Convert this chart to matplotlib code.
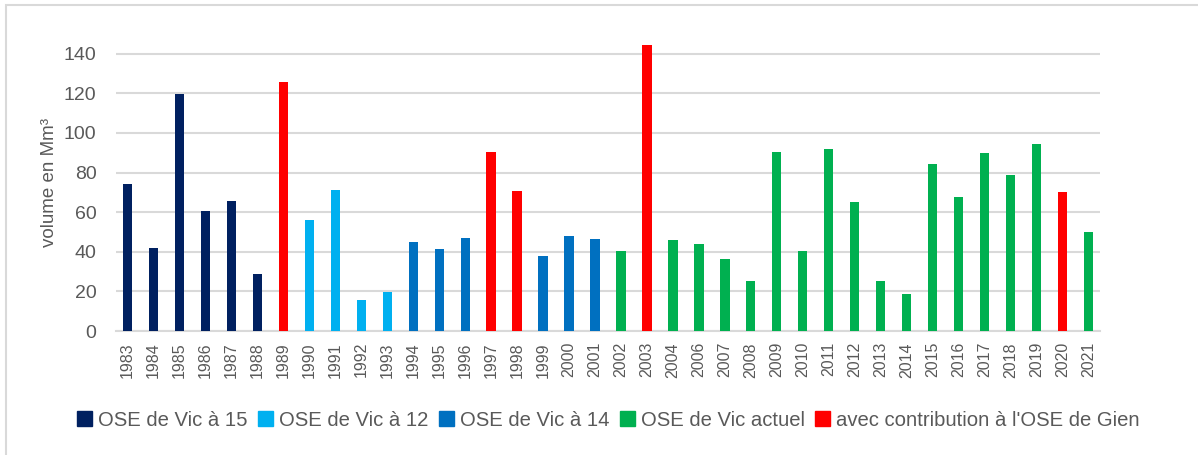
import matplotlib.pyplot as plt
from matplotlib.patches import Rectangle, Patch

years = ["1983", "1984", "1985", "1986", "1987", "1988", "1989", "1990", "1991", "1992",
         "1993", "1994", "1995", "1996", "1997", "1998", "1999", "2000", "2001", "2002",
         "2003", "2004", "2006", "2007", "2008", "2009", "2010", "2011", "2012", "2013",
         "2014", "2015", "2016", "2017", "2018", "2019", "2020", "2021"]
volumes = [74.0, 42.1, 119.9, 60.8, 65.9, 28.8, 125.7, 55.9, 71.4, 15.5,
           19.5, 44.8, 41.6, 46.8, 90.6, 70.9, 37.7, 47.8, 46.3, 40.4,
           144.2, 46.0, 44.1, 36.2, 25.3, 90.3, 40.4, 91.8, 65.4, 25.4,
           18.9, 84.2, 67.9, 90.0, 78.8, 94.3, 70.4, 50.2]
# group of each year (index into group_names)
groups = [0, 0, 0, 0, 0, 0, 4, 1, 1, 1,
          1, 2, 2, 2, 4, 4, 2, 2, 2, 3,
          4, 3, 3, 3, 3, 3, 3, 3, 3, 3,
          3, 3, 3, 3, 3, 3, 4, 3]
group_names = ["OSE de Vic à 15", "OSE de Vic à 12", "OSE de Vic à 14",
               "OSE de Vic actuel", "avec contribution à l'OSE de Gien"]
group_colors = ["#002060", "#00B0F0", "#0070C0", "#00B050", "#FF0000"]

plt.rcParams["font.family"] = ["Liberation Sans", "DejaVu Sans"]
txt = "#595959"

fig = plt.figure(figsize=(11.98, 4.55), dpi=100)
ax = fig.add_axes([116 / 1198, 1 - 331 / 455, 984 / 1198, 297 / 455])

x = list(range(len(years)))
ax.bar(x, volumes, width=0.36, color=[group_colors[g] for g in groups], zorder=3)

ax.set_xlim(-0.45, len(years) - 0.55)
ax.set_ylim(0, 150)
ax.set_yticks(range(0, 141, 20))
ax.set_xticks(x)
ax.set_xticklabels(years, rotation=90)
ax.tick_params(axis="both", length=0, colors=txt)
ax.tick_params(axis="y", labelsize=14, pad=14)
ax.tick_params(axis="x", labelsize=11.5, pad=8)
ax.grid(axis="y", color="#D9D9D9", linewidth=1.5, zorder=0)
for s in ["top", "right", "left"]:
    ax.spines[s].set_visible(False)
ax.spines["bottom"].set_color("#D9D9D9")
ax.spines["bottom"].set_linewidth(1.5)
ax.set_ylabel("volume en Mm³", fontsize=13.5, color=txt, labelpad=4)

handles = [Patch(color=c) for c in group_colors]
fig.legend(handles, group_names, loc="center", bbox_to_anchor=(0.508, 1 - 420 / 455),
           ncol=5, frameon=False, fontsize=14.6, handlelength=0.75, handleheight=0.75,
           handletextpad=0.3, columnspacing=0.5, labelcolor=txt)

fig.patches.append(Rectangle((6 / 1198, -0.1), 1.2, 1 - 5 / 455 + 0.1, transform=fig.transFigure,
                             fill=False, edgecolor="#D9D9D9", linewidth=1.5))

fig.savefig("out.png", dpi=100)
